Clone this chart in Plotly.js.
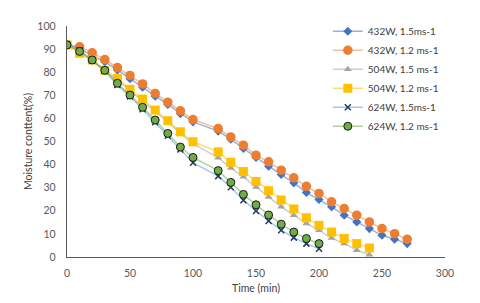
<!DOCTYPE html>
<html>
<head>
<meta charset="utf-8">
<script src="https://cdn.plot.ly/plotly-3.0.1.min.js"></script>
<style>html,body{margin:0;padding:0;background:#fff;}#chart{width:480px;height:303px;}</style>
</head>
<body>
<div id="chart"></div>
<script>
const times432 = [0,10,20,30,40,50,60,70,80,90,100,120,130,140,150,160,170,180,190,200,210,220,230,240,250,260,270];
const times504 = [0,10,20,30,40,50,60,70,80,90,100,120,130,140,150,160,170,180,190,200,210,220,230,240];
const times624 = [0,10,20,30,40,50,60,70,80,90,100,120,130,140,150,160,170,180,190,200];

const w432v15 = [92,90.2,87.2,84.5,81,77.2,73.5,69.6,66,62,58.5,54.5,51,47,43.1,39.3,35.7,32.1,27.9,24.9,21.7,18.1,15.2,12.3,9.4,7.7,5.8];
const w432v12 = [92,91,88.4,85.5,82,78.6,74.9,70.8,67,63.3,59.5,55.6,52,48.4,44.1,41.2,37.6,34.3,30.6,27.5,23.9,21,18.1,15.2,12.3,10.1,7.7];
const w504v15 = [92,88.5,85,80.5,76.5,72,67.5,63,58.5,53.5,49,43,38.5,34.7,30.3,26,21.7,18.1,14.5,11.6,8.2,5.8,2.9,1.0];
const w504v12 = [91.8,88.2,85.3,80.9,77.3,72.6,68.4,63.6,59,54.2,49.9,45.5,41,37,32.7,28.7,24.7,20.8,17,13.7,10.8,8,5.8,3.9];
const w624v15 = [92,89.5,85,80.5,74.5,69.5,64,58.3,52.5,46.5,40.8,35,30.2,24.6,19.9,15.6,11.6,8.4,5.8,3.6];
const w624v12 = [91.8,89,85.3,80.8,75.2,70.1,64.8,59.3,53.5,47.6,43.1,37.4,32.3,27.1,22.6,18.2,14.2,10.8,8,5.8];

const names = ['432W, 1.5ms-1','432W, 1.2 ms-1','504W, 1.5 ms-1','504W, 1.2 ms-1','624W, 1.5ms-1','624W, 1.2 ms-1'];

const traces = [
  {x: times432, y: w432v15, name: names[0], mode: 'lines+markers',
   line: {color: 'rgba(68,114,196,0.55)', width: 1.5},
   marker: {symbol: 'diamond', size: 7, color: '#4472C4'}},
  {x: times432, y: w432v12, name: names[1], mode: 'lines+markers',
   line: {color: 'rgba(237,125,49,0.5)', width: 1.5},
   marker: {symbol: 'circle', size: 9.5, color: '#ED7D31'}},
  {x: times504, y: w504v15, name: names[2], mode: 'lines+markers',
   line: {color: 'rgba(165,165,165,0.55)', width: 1.5},
   marker: {symbol: 'triangle-up', size: 7, color: '#A5A5A5'}},
  {x: times504, y: w504v12, name: names[3], mode: 'lines+markers',
   line: {color: 'rgba(255,192,0,0.55)', width: 1.5},
   marker: {symbol: 'square', size: 9, color: '#FFC000'}},
  {x: times624, y: w624v15, name: names[4], mode: 'lines+markers',
   line: {color: 'rgba(91,155,213,0.55)', width: 1.5},
   marker: {symbol: 'x-thin', size: 6, color: '#1F3864', line: {color: '#1F3864', width: 1.5}}},
  {x: times624, y: w624v12, name: names[5], mode: 'lines+markers',
   line: {color: 'rgba(112,173,71,0.55)', width: 1.5},
   marker: {symbol: 'circle', size: 8, color: '#70AD47', line: {color: '#1a1a1a', width: 1}}}
];

const layout = {
  width: 480, height: 303,
  margin: {l: 67, r: 35, t: 26, b: 46, pad: 0},
  paper_bgcolor: '#fff', plot_bgcolor: '#fff',
  font: {family: 'Lato, "Open Sans", sans-serif', size: 10.5, color: '#595959'},
  showlegend: true,
  legend: {x: 0.69, y: 1.04, xanchor: 'left', yanchor: 'top', bgcolor: 'rgba(0,0,0,0)',
           font: {size: 10, color: '#404040'}, tracegroupgap: 0, itemwidth: 30},
  xaxis: {range: [0, 300], tickvals: [0,50,100,150,200,250,300], showgrid: false, zeroline: false,
          showline: true, linecolor: '#595959', linewidth: 1.3, ticks: '', ticklabelstandoff: 6,
          title: {text: 'Time (min)', font: {size: 10.5, color: '#404040'}, standoff: 6}},
  yaxis: {range: [0, 100], tickvals: [0,10,20,30,40,50,60,70,80,90,100], showgrid: false, zeroline: false,
          showline: true, linecolor: '#595959', linewidth: 1.3, ticks: '', ticklabelstandoff: 8,
          title: {text: 'Moisture conttent(%)', font: {size: 10.5, color: '#404040'}, standoff: 2}}
};

Plotly.newPlot('chart', traces, layout, {displayModeBar: false, staticPlot: true});
</script>
</body>
</html>
